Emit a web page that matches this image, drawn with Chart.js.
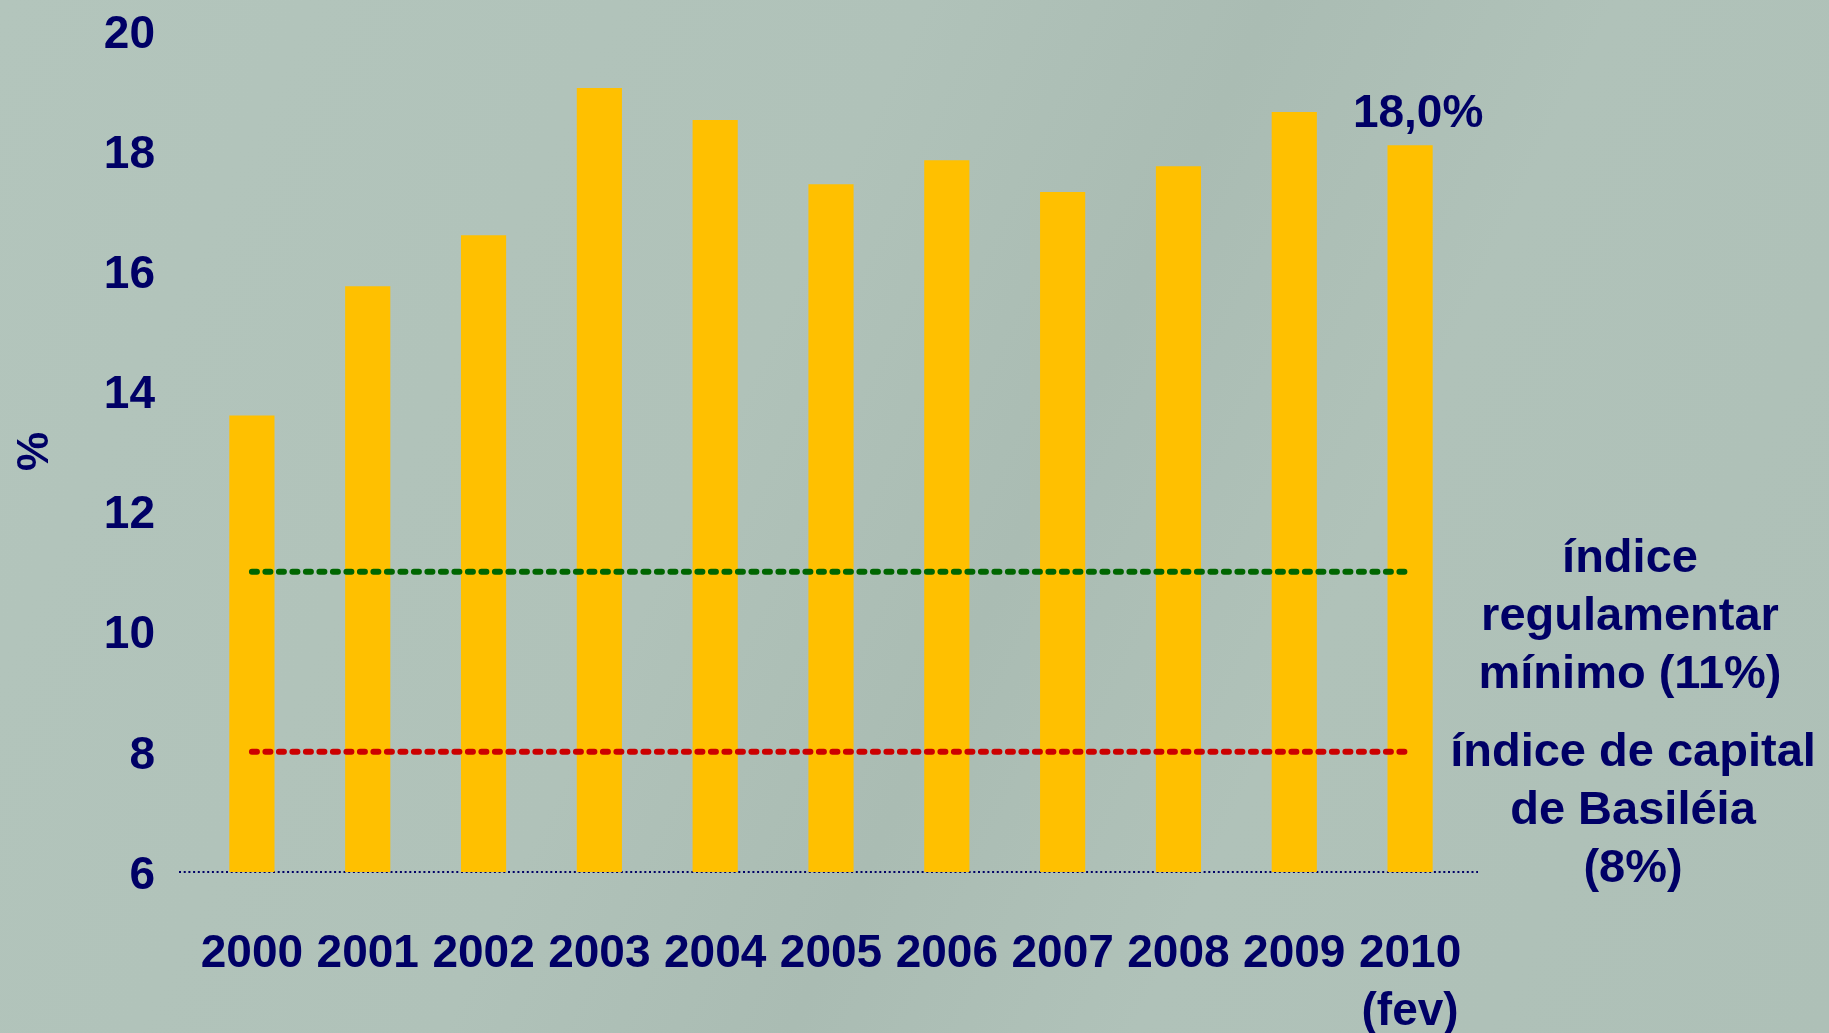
<!DOCTYPE html>
<html>
<head>
<meta charset="utf-8">
<script src="https://cdn.jsdelivr.net/npm/chart.js@4.4.1/dist/chart.umd.min.js"></script>
<style>
html, body { margin: 0; padding: 0; overflow: hidden; }
body {
    width: 1829px; height: 1033px;
    background: linear-gradient(115deg, #b3c5bc 0%, #b0c2b9 40%, #aabcb3 55%, #b0c2b9 70%, #aec0b7 100%);
}
#grafico { display: block; }
</style>
</head>
<body>
<canvas id="grafico" width="1829" height="1033"></canvas>
<script>
// dados
const anos = ['2000', '2001', '2002', '2003', '2004', '2005', '2006', '2007', '2008', '2009', ['2010', '(fev)']];
const indiceBasileia = [13.6, 15.75, 16.6, 19.05, 18.52, 17.45, 17.85, 17.32, 17.75, 18.65, 18.1];
const minimoRegulamentar = [11, 11, 11, 11, 11, 11, 11, 11, 11, 11, 11];
const capitalBasileia = [8, 8, 8, 8, 8, 8, 8, 8, 8, 8, 8];
const eixoY = { min: 6, max: 20, passo: 2 };
const rotuloUltimo = '18,0%';
const textoMinimo = ['índice', 'regulamentar', 'mínimo (11%)'];
const textoBasileia = ['índice de capital', 'de Basiléia', '(8%)'];

const azul = '#000066';
const fonte = '"Liberation Sans", Arial, sans-serif';

// linha pontilhada da base, um pouco mais larga que a área do gráfico
const linhaBase = {
    id: 'linhaBase',
    beforeDatasetsDraw(chart) {
        const ctx = chart.ctx;
        const area = chart.chartArea;
        const yb = chart.scales.y.getPixelForValue(eixoY.min);
        ctx.save();
        ctx.strokeStyle = azul;
        ctx.lineWidth = 2;
        ctx.setLineDash([2, 2.7]);
        ctx.beginPath();
        ctx.moveTo(area.left - 15, yb);
        ctx.lineTo(area.right + 10, yb);
        ctx.stroke();
        ctx.restore();
    }
};

// textos soltos à direita e rótulo de 2010
const textosExtras = {
    id: 'textosExtras',
    afterDraw(chart) {
        const ctx = chart.ctx;
        const x = chart.scales.x;
        const y = chart.scales.y;
        ctx.save();
        ctx.fillStyle = azul;
        ctx.textAlign = 'center';
        ctx.textBaseline = 'middle';

        ctx.font = 'bold 46px ' + fonte;
        ctx.fillText(rotuloUltimo, x.getPixelForValue(10) + 8, y.getPixelForValue(indiceBasileia[10]) - 31);

        ctx.font = 'bold 47px ' + fonte;
        let y0 = y.getPixelForValue(11) - 13;
        textoMinimo.forEach((t, i) => ctx.fillText(t, 1630, y0 + i * 58));
        y0 = y.getPixelForValue(8) + 1;
        textoBasileia.forEach((t, i) => ctx.fillText(t, 1633, y0 + i * 58));
        ctx.restore();
    }
};

new Chart(document.getElementById('grafico'), {
    data: {
        labels: anos,
        datasets: [
            {
                type: 'line',
                label: 'índice regulamentar mínimo (11%)',
                data: minimoRegulamentar,
                borderColor: '#006600',
                borderWidth: 6,
                borderDash: [5, 8.5],
                borderCapStyle: 'round',
                pointRadius: 0,
                order: 0
            },
            {
                type: 'line',
                label: 'índice de capital de Basiléia (8%)',
                data: capitalBasileia,
                borderColor: '#cc0000',
                borderWidth: 6,
                borderDash: [5, 8.5],
                borderCapStyle: 'round',
                pointRadius: 0,
                order: 0
            },
            {
                type: 'bar',
                label: 'Índice de Basiléia',
                data: indiceBasileia,
                backgroundColor: '#ffc000',
                categoryPercentage: 1,
                barPercentage: 0.39,
                order: 1
            }
        ]
    },
    options: {
        responsive: false,
        animation: false,
        devicePixelRatio: 1,
        layout: {
            padding: { top: 31, right: 361, left: 0, bottom: 0 }
        },
        plugins: {
            legend: { display: false },
            tooltip: { enabled: false }
        },
        scales: {
            x: {
                grid: { display: false, drawTicks: true, tickLength: 54 },
                border: { display: false },
                ticks: {
                    color: azul,
                    padding: 0,
                    maxRotation: 0,
                    autoSkip: false,
                    font: { family: fonte, size: 46, weight: 'bold', lineHeight: 1.25 }
                },
                afterFit(scale) { scale.height = 161; }
            },
            y: {
                min: eixoY.min,
                max: eixoY.max,
                grid: { display: false, drawTicks: true, tickLength: 39 },
                border: { display: false },
                ticks: {
                    stepSize: eixoY.passo,
                    color: azul,
                    padding: 0,
                    labelOffset: 4,
                    font: { family: fonte, size: 46, weight: 'bold' }
                },
                title: {
                    display: true,
                    text: '%',
                    color: azul,
                    padding: { top: 9, bottom: 0 },
                    font: { family: fonte, size: 44, weight: 'bold' }
                },
                afterFit(scale) { scale.width = 194; }
            }
        }
    },
    plugins: [linhaBase, textosExtras]
});
</script>
</body>
</html>
